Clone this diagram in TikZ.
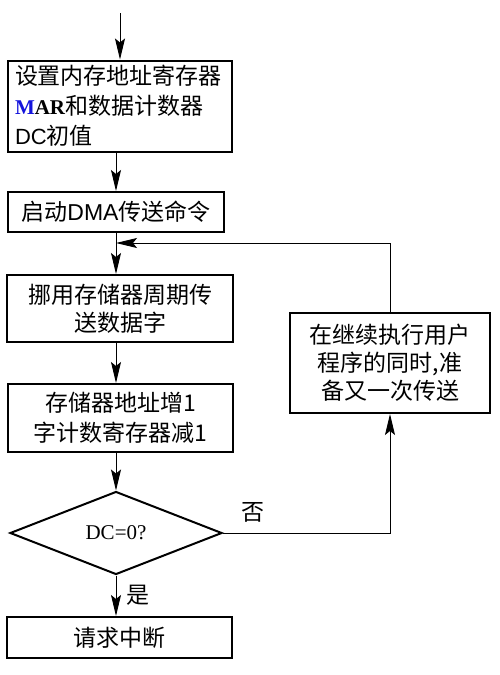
\documentclass[tikz,border=0pt]{standalone}
\usepackage{fontspec}
\setmainfont{Noto Sans CJK SC}
\newfontfamily\serifL{Liberation Serif}
\newfontfamily\sansL{Liberation Sans}
\usetikzlibrary{shapes.geometric,arrows.meta,calc}
\definecolor{marblue}{RGB}{20,20,220}
\begin{document}
\begin{tikzpicture}[x=1pt,y=-1pt,
  box/.style={draw,line width=2pt,inner sep=0pt,align=center,
    font=\fontsize{23}{28}\selectfont},
  conn/.style={line width=0.9pt,-{Stealth[length=21pt,width=10pt,inset=4pt]}},
  lbl/.style={font=\fontsize{23}{24}\selectfont,inner sep=0pt}]
\useasboundingbox (0,0) rectangle (499,675);
\node[box,minimum width=224pt,minimum height=91pt,text width=210pt,align=left,
  font=\fontsize{23}{30}\selectfont] (b1) at (120,106)
  {设置内存地址寄存器\\{\serifL\bfseries\fontsize{21}{30}\selectfont\textcolor{marblue}{M}AR}和数据计数器\\{\sansL\fontsize{22}{30}\selectfont DC}初值};
\node[box,minimum width=216pt,minimum height=40pt] (b2) at (116,212)
  {启动{\sansL\fontsize{23}{28}\selectfont DMA}传送命令};
\node[box,minimum width=226pt,minimum height=67pt] (b3) at (120,308.5)
  {挪用存储器周期传\\送数据字};
\node[box,minimum width=225pt,minimum height=68pt,font=\fontsize{23}{30}\selectfont] (b4) at (120.5,418)
  {存储器地址增1\\字计数寄存器减1};
\node[draw,diamond,line width=2pt,inner sep=0pt,minimum width=212pt,minimum height=83pt,
  font=\serifL\fontsize{21}{24}\selectfont] (d) at (116,533) {DC=0?};
\node[box,minimum width=225pt,minimum height=41pt] (b5) at (119.5,637.5)
  {请求中断};
\node[box,minimum width=200pt,minimum height=100pt] (r) at (390,363)
  {在继续执行用户\\程序的同时,准\\备又一次传送};
\coordinate (start) at (120,13);
\coordinate (j) at (116,243);
\draw[conn] (start) -- (b1.north);
\draw[conn] (b2.north |- b1.south) -- (b2.north);
\draw[line width=0.9pt] (b2.south) -- (j);
\draw[conn] (j) -- (j |- b3.north);
\draw[conn] (j |- b3.south) -- (j |- b4.north);
\draw[conn] (d.north |- b4.south) -- (d.north);
\draw[conn] (d.south) -- (d.south |- b5.north);
\draw[conn] (d.east) -- (d.east -| r.south) -- (r.south);
\draw[conn] (r.north) -- (r.north |- j) -- (j);
\node[lbl] (no) at (253,512) {否};
\node[lbl] (yes) at (138,595) {是};
\end{tikzpicture}
\end{document}
